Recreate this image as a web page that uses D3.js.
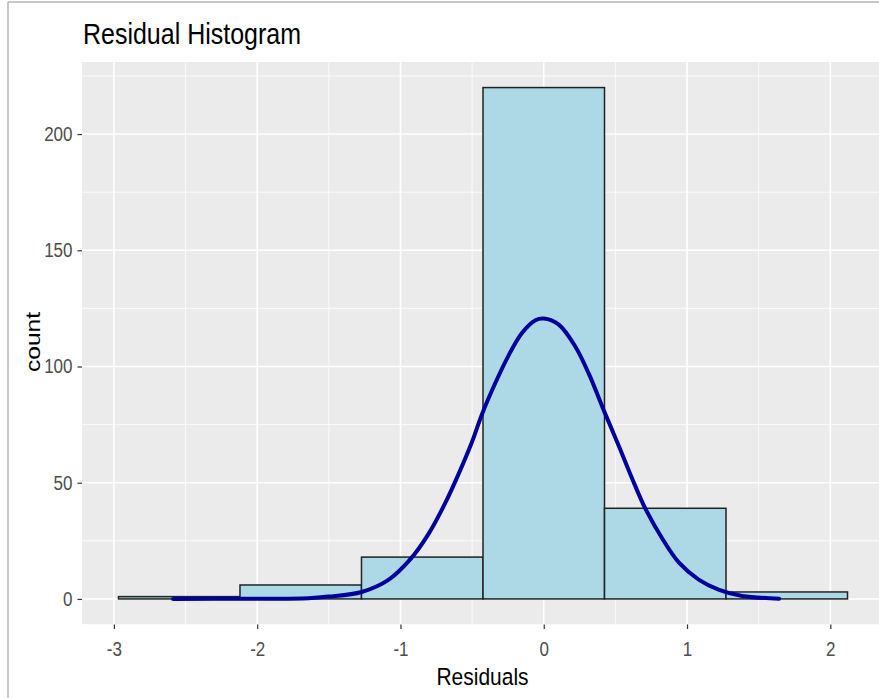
<!DOCTYPE html>
<html>
<head>
<meta charset="utf-8">
<script src="https://cdn.jsdelivr.net/npm/d3@7"></script>
<style>
  html, body { margin: 0; padding: 0; background: #fff; }
  svg { display: block; }
</style>
</head>
<body>
<svg id="chart" width="879" height="698"></svg>
<script>
// ---- data ----
const binEdges = [-2.968, -2.12, -1.272, -0.424, 0.424, 1.272, 2.12];
const binCounts = [1, 6, 18, 220, 39, 3];
const curveX = [-2.587, -2.063, -1.643, -1.503, -1.271, -1.084, -0.932, -0.804, -0.688, -0.594, -0.501, -0.431, -0.338, -0.245, -0.152, -0.058, 0.0, 0.105, 0.222, 0.315, 0.420, 0.524, 0.618, 0.711, 0.827, 0.944, 1.084, 1.224, 1.385, 1.643];
const curveY = [0.0, 0.1, 0.3, 1.0, 3.0, 8.2, 17.0, 28.0, 41.2, 53.8, 67.5, 79.5, 92.9, 104.8, 114.4, 119.9, 120.6, 118.0, 108.4, 96.8, 81.0, 65.8, 51.6, 38.6, 26.0, 15.6, 8.2, 3.9, 1.3, 0.1];
const xTicks = [-3, -2, -1, 0, 1, 2];
const xMinor = [-2.5, -1.5, -0.5, 0.5, 1.5];
const yTicks = [0, 50, 100, 150, 200];
const yMinor = [25, 75, 125, 175, 225];
const titleText = "Residual Histogram";
const xLabel = "Residuals";
const yLabel = "count";

// ---- layout ----
const K = 1.17; // vertical stretch of glyphs seen in the reference
const svg = d3.select("#chart");
const panel = { left: 82, top: 62, right: 884, bottom: 624.5 };
const x = d3.scaleLinear().domain([-3.2227, 2.3747]).range([panel.left, panel.right]);
const y = d3.scaleLinear().domain([-11, 231]).range([panel.bottom, panel.top]);

// outer frame lines
svg.append("line").attr("x1", 8).attr("x2", 8).attr("y1", 2).attr("y2", 698)
  .attr("stroke", "#b5b5b5").attr("stroke-width", 1.5);
svg.append("line").attr("x1", 8).attr("x2", 879).attr("y1", 2).attr("y2", 2)
  .attr("stroke", "#b5b5b5").attr("stroke-width", 1.5);

svg.append("clipPath").attr("id", "pclip").append("rect")
  .attr("x", panel.left).attr("y", panel.top)
  .attr("width", panel.right - panel.left).attr("height", panel.bottom - panel.top);

const g = svg.append("g").attr("clip-path", "url(#pclip)");
g.append("rect").attr("x", panel.left).attr("y", panel.top)
  .attr("width", panel.right - panel.left).attr("height", panel.bottom - panel.top)
  .attr("fill", "#EBEBEB");

// grid
g.selectAll(".xminor").data(xMinor).join("line")
  .attr("x1", d => x(d)).attr("x2", d => x(d)).attr("y1", panel.top).attr("y2", panel.bottom)
  .attr("stroke", "#fff").attr("stroke-width", 0.8);
g.selectAll(".yminor").data(yMinor).join("line")
  .attr("y1", d => y(d)).attr("y2", d => y(d)).attr("x1", panel.left).attr("x2", panel.right)
  .attr("stroke", "#fff").attr("stroke-width", 0.8);
g.selectAll(".xmajor").data(xTicks).join("line")
  .attr("x1", d => x(d)).attr("x2", d => x(d)).attr("y1", panel.top).attr("y2", panel.bottom)
  .attr("stroke", "#fff").attr("stroke-width", 1.6);
g.selectAll(".ymajor").data(yTicks).join("line")
  .attr("y1", d => y(d)).attr("y2", d => y(d)).attr("x1", panel.left).attr("x2", panel.right)
  .attr("stroke", "#fff").attr("stroke-width", 1.6);

// bars
const bins = binCounts.map((c, i) => ({ x0: binEdges[i], x1: binEdges[i + 1], c }));
g.selectAll(".bar").data(bins).join("rect")
  .attr("x", d => x(d.x0)).attr("width", d => x(d.x1) - x(d.x0))
  .attr("y", d => y(d.c)).attr("height", d => y(0) - y(d.c))
  .attr("fill", "#ADD8E6").attr("stroke", "#222").attr("stroke-width", 1.5);

// curve
const pts = curveX.map((v, i) => [v, curveY[i]]);
g.append("path").datum(pts)
  .attr("d", d3.line().x(d => x(d[0])).y(d => y(d[1])).curve(d3.curveCatmullRom.alpha(0.5)))
  .attr("fill", "none").attr("stroke", "#00009C").attr("stroke-width", 4)
  .attr("stroke-linecap", "round").attr("stroke-linejoin", "round");

// axes
const font = "'Liberation Sans', Arial, sans-serif";
const tickFs = 17;
const xAxis = d3.axisBottom(x).tickValues(xTicks).tickSize(4.5).tickPadding(12.5);
const xa = svg.append("g").attr("transform", `translate(0,${panel.bottom})`).call(xAxis);
xa.select(".domain").remove();
xa.selectAll(".tick line").attr("stroke", "#333").attr("stroke-width", 1.2);
xa.selectAll(".tick text").attr("fill", "#4D4D4D")
  .style("font-size", (tickFs * K) + "px").style("font-family", font)
  .attr("transform", `scale(${1 / K},1)`)
  .text(d => d < 0 ? "-" + Math.abs(d) : String(d));

const yAxis = d3.axisLeft(y).tickValues(yTicks).tickSize(4.5).tickPadding(5);
const ya = svg.append("g").attr("transform", `translate(${panel.left},0)`).call(yAxis);
ya.select(".domain").remove();
ya.selectAll(".tick line").attr("stroke", "#333").attr("stroke-width", 1.2);
ya.selectAll(".tick text").attr("fill", "#4D4D4D")
  .style("font-size", (tickFs * K) + "px").style("font-family", font)
  .attr("x", -9.5 * K)
  .attr("transform", `scale(${1 / K},1)`);

// titles
svg.append("text").attr("transform", `translate(83,44) scale(${1 / K},1)`).text(titleText)
  .style("font-family", font).style("font-size", (25 * K) + "px").attr("fill", "#000");
svg.append("text").attr("transform", `translate(${(panel.left + 879) / 2 + 2},685) scale(${1 / K},1)`)
  .attr("text-anchor", "middle")
  .text(xLabel).style("font-family", font).style("font-size", (21 * K) + "px").attr("fill", "#000");
svg.append("text").attr("transform", `translate(40,342) rotate(-90) scale(${K},1)`).attr("text-anchor", "middle")
  .text(yLabel).style("font-family", font).style("font-size", "21px").attr("fill", "#000");
</script>
</body>
</html>
